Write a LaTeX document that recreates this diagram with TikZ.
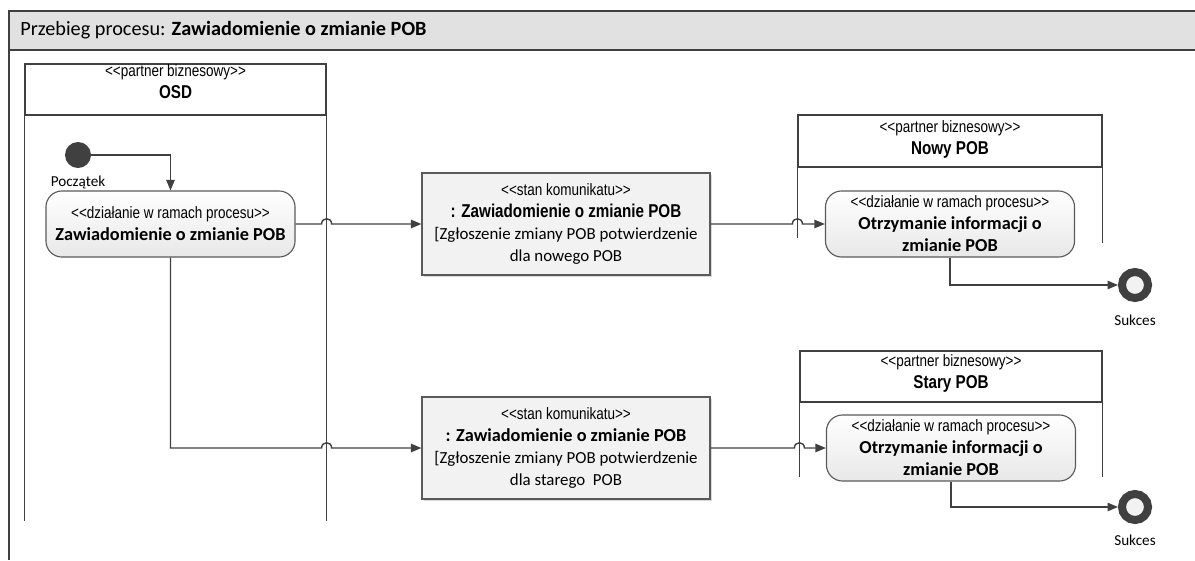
\documentclass[tikz,border=0pt]{standalone}
\usepackage{fontspec}
\setmainfont{Carlito}
\newfontfamily\narrowfont[FakeStretch=0.82]{Liberation Sans}
\usetikzlibrary{arrows.meta,positioning,calc,shadows}

\definecolor{linia}{HTML}{404040}
\definecolor{szary}{HTML}{5A5A5A}
\definecolor{tlo}{HTML}{E1E1E1}
\definecolor{jasny}{HTML}{F2F2F2}

\newcommand{\ster}[1]{{\narrowfont\fontsize{11.7}{15.6}\selectfont<\kern0pt<#1>\kern0pt>}}
\newcommand{\wazne}[1]{{\narrowfont\bfseries\fontsize{13.2}{15.6}\selectfont #1}}
\newcommand{\zwykly}[1]{{\fontsize{12}{15.6}\selectfont #1}}

\begin{document}
\begin{tikzpicture}[x=0.025cm, y=-0.025cm, >={Triangle[length=7.5pt,width=6pt]},
  every node/.style={font=\fontsize{13}{15.6}\selectfont, align=center},
  ramka/.style={draw=linia, line width=0.8pt},
  tor/.style={ramka, minimum height=1.275cm, inner sep=0pt},
  dzialanie/.style={draw=szary, line width=0.8pt, rounded corners=0.4cm, top color=white,
    bottom color=black!9, minimum width=6.225cm, minimum height=1.65cm, inner sep=0pt},
  komunikat/.style={draw=szary, line width=0.8pt, fill=jasny, minimum width=7.2cm,
    minimum height=2.55cm, inner sep=0pt,
    drop shadow={shadow xshift=1.5pt, shadow yshift=-1.5pt, opacity=0.3}},
  poczatek/.style={circle, fill=linia, minimum size=0.65cm, inner sep=0pt},
  koniec/.style={circle, draw=linia, line width=5.7pt, fill=jasny, minimum size=0.65cm,
    inner sep=0pt, outer sep=2.8pt},
  opis/.style={font=\fontsize{10.8}{12}\selectfont},
  flow/.style={->, draw=linia, line width=1pt}]
  \useasboundingbox (0,0) rectangle (1195,560);

  % ramka i tytul
  \fill[tlo] (9,11) rectangle (1195,50);
  \draw[ramka, line width=1pt] (1195,11) -- (9,11) -- (9,560) (9,50) -- (1195,50);
  \node[anchor=west, inner sep=0pt, font=\fontsize{14.4}{16}\selectfont] (tytul) at (20,30) {Przebieg procesu: \textbf{Zawiadomienie o zmianie POB}};

  % tory
  \node[tor, minimum width=7.525cm] (osd) at (175.5,89.5) {};
  \draw[ramka] (osd.south west) -- ++(0,405) (osd.south east) -- ++(0,405);
  \node (osdt) at (175.5,82) {\ster{partner biznesowy}\\\wazne{OSD}};

  \node[tor, minimum width=7.6cm, minimum height=1.3cm] (nowy) at (950,141) {};
  \draw[ramka] (nowy.south west) -- ++(0,70) (nowy.south east) -- ++(0,75);
  \node (nowyt) at (950,139.5) {\ster{partner biznesowy}\\\wazne{Nowy POB}};

  \node[tor, minimum width=7.55cm] (stary) at (951,376.5) {};
  \draw[ramka] (stary.south west) -- ++(0,74) (stary.south east) -- ++(0,74);
  \node (staryt) at (951,373) {\ster{partner biznesowy}\\\wazne{Stary POB}};

  % wezly
  \node[poczatek] (start) at (78,155) {};
  \node[opis] (startl) at (78,182) {Początek};

  \node[dzialanie] (dz1) at (170.5,224) {\ster{działanie w ramach procesu}\\\textbf{Zawiadomienie o zmianie POB}};
  \node[dzialanie] (dz2) at (950,224) {\ster{działanie w ramach procesu}\\\textbf{Otrzymanie informacji o}\\\textbf{zmianie POB}};
  \node[dzialanie] (dz3) at (951,448) {\ster{działanie w ramach procesu}\\\textbf{Otrzymanie informacji o}\\\textbf{zmianie POB}};

  \node[komunikat] (kom1) at (566,224) {\ster{stan komunikatu}\\\wazne{: Zawiadomienie o zmianie POB}\\\zwykly{{[}Zgłoszenie zmiany POB potwierdzenie}\\\zwykly{dla nowego POB}};
  \node[komunikat] (kom2) at (566,448) {\ster{stan komunikatu}\\\textbf{: Zawiadomienie o zmianie POB}\\\zwykly{{[}Zgłoszenie zmiany POB potwierdzenie}\\\zwykly{dla starego~ POB}};

  \node[koniec] (kon1) at (1135,285) {};
  \node[opis] (kon1l) at (1135,320) {Sukces};
  \node[koniec] (kon2) at (1135,507) {};
  \node[opis] (kon2l) at (1135,540) {Sukces};

  % przeplywy
  \draw[flow] (start.east) -| (dz1.north);
  \draw[flow] (dz1.east) -- ($(osd.east |- dz1.east)+(-5,0)$) .. controls +(0,-7) and +(0,-7) .. +(10,0) -- (kom1.west);
  \draw[flow] (kom1.east) -- ($(nowy.west |- kom1.east)+(-5,0)$) .. controls +(0,-7) and +(0,-7) .. +(10,0) -- (dz2.west);
  \draw[flow] (dz2.south) |- (kon1.west);
  \draw[flow] (dz1.south) -- (dz1.south |- kom2.west) -- ($(osd.east |- kom2.west)+(-5,0)$) .. controls +(0,-7) and +(0,-7) .. +(10,0) -- (kom2.west);
  \draw[flow] (kom2.east) -- ($(stary.west |- kom2.east)+(-5,0)$) .. controls +(0,-7) and +(0,-7) .. +(10,0) -- (dz3.west);
  \draw[flow] (dz3.south) |- (kon2.west);
\end{tikzpicture}
\end{document}
